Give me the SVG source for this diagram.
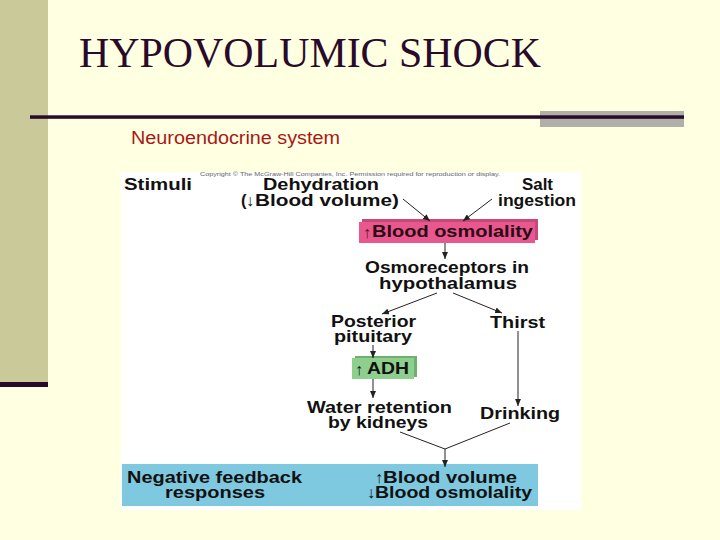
<svg xmlns="http://www.w3.org/2000/svg" width="720" height="540" viewBox="0 0 720 540">
<defs>
<style>
.t{font-family:"Liberation Sans",Arial,sans-serif;font-weight:bold;font-size:16.5px;fill:#111}
.ar{font-family:"Liberation Sans","DejaVu Sans",sans-serif;font-weight:normal;font-size:16px;fill:#111}
.c{stroke:#222;stroke-width:1;fill:none}
</style>
<marker id="ah" markerUnits="userSpaceOnUse" markerWidth="7" markerHeight="6" refX="7" refY="3" orient="auto">
<path d="M0,0 L7,3 L0,6 z" fill="#222"/>
</marker>
</defs>
<rect width="720" height="540" fill="#FFFFE2"/>
<rect x="0" y="0" width="48" height="382" fill="#C9C99A"/>
<rect x="0" y="382" width="48" height="5" fill="#2A0A2A"/>
<text x="79" y="67" font-family="'Liberation Serif','Times New Roman',serif" font-size="42" fill="#2A0A2A" textLength="462" lengthAdjust="spacingAndGlyphs">HYPOVOLUMIC SHOCK</text>
<rect x="540" y="111" width="144" height="16" fill="#B0B0A8"/>
<rect x="30" y="115.3" width="654" height="3.5" fill="#2A0A2A"/>
<text x="131" y="144" font-family="'Liberation Sans',Arial,sans-serif" font-size="18" fill="#A81818" textLength="209" lengthAdjust="spacingAndGlyphs">Neuroendocrine system</text>
<rect x="121" y="172" width="460" height="338" fill="#FFFFFF"/>
<text x="200" y="176" font-family="'Liberation Sans',Arial,sans-serif" font-size="5" fill="#666" textLength="300" lengthAdjust="spacingAndGlyphs">Copyright © The McGraw-Hill Companies, Inc. Permission required for reproduction or display.</text>
<g id="feedback">
<rect x="122" y="464" width="416" height="42" fill="#7EC8E0"/>
<text class="t" x="127" y="483" textLength="175" lengthAdjust="spacingAndGlyphs">Negative feedback</text>
<text class="t" x="165" y="498" textLength="100" lengthAdjust="spacingAndGlyphs">responses</text>
<text class="ar" x="375" y="483">↑</text>
<text class="t" x="383" y="483" textLength="134" lengthAdjust="spacingAndGlyphs">Blood volume</text>
<text class="ar" x="367" y="498">↓</text>
<text class="t" x="375" y="498" textLength="157" lengthAdjust="spacingAndGlyphs">Blood osmolality</text>
</g>
<g id="stimuli">
<text class="t" x="124" y="190" textLength="68" lengthAdjust="spacingAndGlyphs">Stimuli</text>
</g>
<g id="dehydration">
<text class="t" x="263" y="190" textLength="116" lengthAdjust="spacingAndGlyphs">Dehydration</text>
<text class="t" x="241" y="206">(</text>
<text class="ar" x="246" y="206">↓</text>
<text class="t" x="255" y="206" textLength="144" lengthAdjust="spacingAndGlyphs">Blood volume)</text>
</g>
<g id="salt">
<text class="t" x="522" y="190" textLength="31" lengthAdjust="spacingAndGlyphs">Salt</text>
<text class="t" x="498" y="206" textLength="78" lengthAdjust="spacingAndGlyphs">ingestion</text>
</g>
<g id="osmolality">
<rect x="362" y="219" width="176" height="21" fill="#C84878"/>
<rect x="359" y="222" width="176" height="21" fill="#E8588F"/>
<text class="ar" x="363" y="238" style="fill:#5A0A20">↑</text>
<text class="t" x="372" y="237" textLength="161" lengthAdjust="spacingAndGlyphs" style="fill:#2B0A14">Blood osmolality</text>
</g>
<g id="osmoreceptors">
<text class="t" x="365" y="273" textLength="164" lengthAdjust="spacingAndGlyphs">Osmoreceptors in</text>
<text class="t" x="379" y="289" textLength="138" lengthAdjust="spacingAndGlyphs">hypothalamus</text>
</g>
<g id="posterior">
<text class="t" x="331" y="327" textLength="85" lengthAdjust="spacingAndGlyphs">Posterior</text>
<text class="t" x="334" y="342" textLength="78" lengthAdjust="spacingAndGlyphs">pituitary</text>
</g>
<g id="thirst">
<text class="t" x="490" y="328" textLength="55" lengthAdjust="spacingAndGlyphs">Thirst</text>
</g>
<g id="adh">
<rect x="355" y="356" width="62" height="21" fill="#6FAF6F"/>
<rect x="352" y="358" width="62" height="21" fill="#8ECF8E"/>
<text class="ar" x="355" y="375">↑</text>
<text class="t" x="367" y="374" textLength="42" lengthAdjust="spacingAndGlyphs">ADH</text>
</g>
<g id="water">
<text class="t" x="307" y="413" textLength="145" lengthAdjust="spacingAndGlyphs">Water retention</text>
<text class="t" x="328" y="428" textLength="100" lengthAdjust="spacingAndGlyphs">by kidneys</text>
</g>
<g id="drinking">
<text class="t" x="480" y="419" textLength="80" lengthAdjust="spacingAndGlyphs">Drinking</text>
</g>
<g id="connectors">
<line class="c" x1="403" y1="199" x2="430" y2="221" marker-end="url(#ah)"/>
<line class="c" x1="492" y1="199" x2="463" y2="221" marker-end="url(#ah)"/>
<line class="c" x1="445" y1="243" x2="445" y2="259" marker-end="url(#ah)"/>
<line class="c" x1="437" y1="293" x2="382" y2="314" marker-end="url(#ah)"/>
<line class="c" x1="453" y1="293" x2="502" y2="313" marker-end="url(#ah)"/>
<line class="c" x1="373" y1="345" x2="373" y2="358" marker-end="url(#ah)"/>
<line class="c" x1="373" y1="379" x2="373" y2="398" marker-end="url(#ah)"/>
<line class="c" x1="518" y1="331" x2="518" y2="406" marker-end="url(#ah)"/>
<polyline class="c" points="400,432 445,449 510,423"/>
<line class="c" x1="445" y1="449" x2="445" y2="467" marker-end="url(#ah)"/>
</g>
</svg>
